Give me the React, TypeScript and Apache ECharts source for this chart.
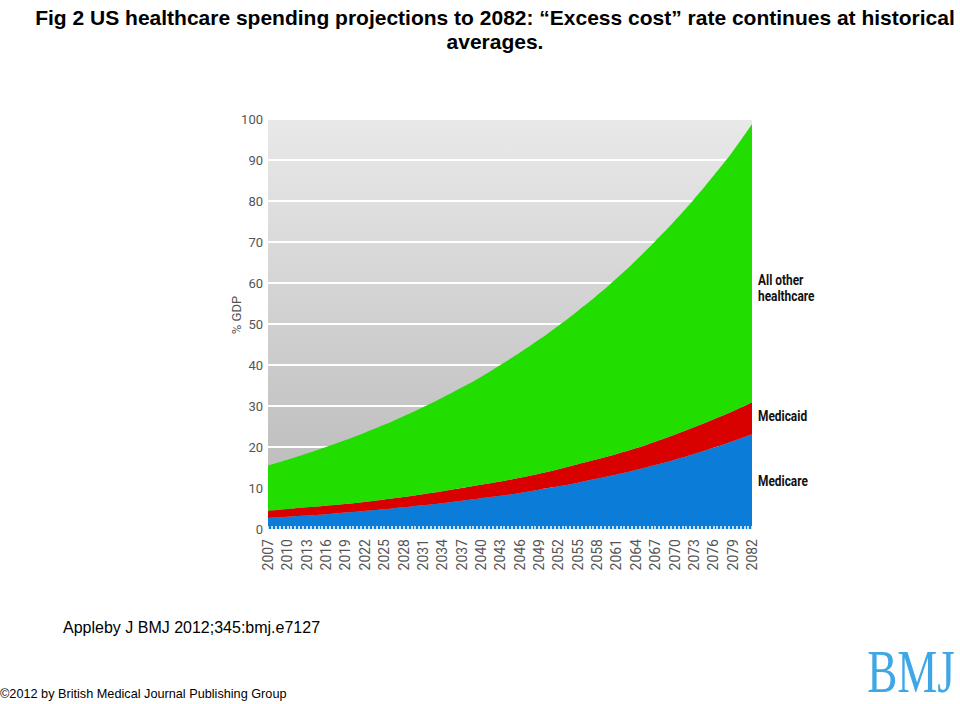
import React, { useEffect, useRef } from "react";
import * as echarts from "echarts";

const years: string[] = [
  "2007", "2010", "2013", "2016", "2019", "2022", "2025", "2028", "2031",
  "2034", "2037", "2040", "2043", "2046", "2049", "2052", "2055", "2058",
  "2061", "2064", "2067", "2070", "2073", "2076", "2079", "2082",
];

const medicare: number[] = [
  2.7, 3.0, 3.3, 3.6, 4.0, 4.4, 4.8, 5.3, 5.8, 6.3, 6.9, 7.5, 8.1, 8.8, 9.6,
  10.4, 11.3, 12.3, 13.3, 14.4, 15.6, 16.9, 18.3, 19.8, 21.4, 23.1,
];

const medicaid: number[] = [
  1.8, 1.9, 2.0, 2.1, 2.1, 2.2, 2.4, 2.5, 2.7, 2.9, 3.1, 3.3, 3.5, 3.7, 3.9,
  4.2, 4.5, 4.7, 5.0, 5.3, 5.7, 6.1, 6.5, 6.9, 7.3, 7.8,
];

const allOther: number[] = [
  11.0, 12.0, 13.1, 14.3, 15.6, 16.9, 18.2, 19.7, 21.2, 22.8, 24.5, 26.3, 28.4,
  30.5, 32.7, 35.0, 37.4, 40.0, 42.8, 45.8, 48.9, 52.1, 55.6, 59.4, 63.4, 67.9,
];

const seriesNames: string[] = ["Medicare", "Medicaid", "All other healthcare"];

const titleText =
  "Fig 2 US healthcare spending projections to 2082: \u201cExcess cost\u201d rate continues at historical\naverages.";
const citation = "Appleby J BMJ 2012;345:bmj.e7127";
const copyright = "\u00a92012 by British Medical Journal Publishing Group";

const axisFont = "Roboto, 'Noto Sans', sans-serif";
const arial = "'Liberation Sans', Arial, sans-serif";

export default function App() {
  const ref = useRef<HTMLDivElement>(null);

  useEffect(() => {
    if (!ref.current) return;
    const chart = echarts.init(ref.current, undefined, { renderer: "svg" });
    const colors = ["#0b7dd8", "#d90000", "#22dd00"];
    const values = [medicare, medicaid, allOther];

    chart.setOption({
      animation: false,
      backgroundColor: "#ffffff",
      title: {
        text: titleText,
        left: 490,
        top: 0,
        textAlign: "center",
        textStyle: {
          fontFamily: arial,
          fontWeight: "bold",
          fontSize: 21,
          lineHeight: 24,
          color: "#000",
        },
      },
      grid: {
        left: 268,
        right: 208,
        top: 119,
        bottom: 175,
        show: true,
        borderWidth: 0,
        backgroundColor: new echarts.graphic.LinearGradient(0, 0, 0, 1, [
          { offset: 0, color: "#e9e9e9" },
          { offset: 1, color: "#b7b7b7" },
        ]),
      },
      xAxis: [
        {
          type: "category",
          data: years,
          boundaryGap: false,
          axisLine: { show: false },
          axisTick: { show: false },
          splitLine: { show: false },
          axisLabel: {
            rotate: 90,
            margin: 10,
            fontSize: 14,
            color: "#555",
            fontFamily: axisFont,
            interval: 0,
          },
        },
        {
          type: "value",
          position: "bottom",
          min: 2007,
          max: 2082,
          interval: 3,
          axisLine: { show: false },
          splitLine: { show: false },
          axisLabel: { show: false },
          axisTick: {
            show: true,
            inside: true,
            length: 3,
            lineStyle: { color: "#ffffff", width: 1.5 },
          },
          minorTick: {
            show: true,
            splitNumber: 5,
            length: 3,
            lineStyle: { color: "#ffffff", width: 1.5 },
          },
          z: 10,
        },
      ],
      yAxis: {
        type: "value",
        min: 0,
        max: 100,
        interval: 10,
        axisLine: { show: false },
        axisTick: { show: false },
        splitLine: { show: true, lineStyle: { color: "#ffffff", width: 2 } },
        axisLabel: {
          margin: 5,
          fontSize: 13,
          color: "#555",
          fontFamily: axisFont,
        },
      },
      series: seriesNames.map((name, i) => ({
        name,
        type: "line",
        xAxisIndex: 0,
        stack: "total",
        smooth: true,
        showSymbol: false,
        symbol: "none",
        lineStyle: { width: 0 },
        areaStyle: { color: colors[i], opacity: 1 },
        itemStyle: { color: colors[i] },
        data: values[i],
        z: 2,
      })),
      graphic: [
        {
          type: "text",
          x: 236,
          y: 315,
          rotation: Math.PI / 2,
          style: {
            text: "% GDP",
            align: "center",
            verticalAlign: "middle",
            fontSize: 13,
            fill: "#555",
            fontFamily: axisFont,
          },
        },
        {
          type: "text",
          x: 758,
          y: 288,
          scaleX: 0.85,
          style: {
            text: "All other\nhealthcare",
            align: "left",
            verticalAlign: "middle",
            fontSize: 14,
            lineHeight: 16,
            fontWeight: "bold",
            fill: "#111",
            fontFamily: axisFont,
          },
        },
        {
          type: "text",
          x: 758,
          y: 416,
          scaleX: 0.85,
          style: {
            text: "Medicaid",
            align: "left",
            verticalAlign: "middle",
            fontSize: 14,
            fontWeight: "bold",
            fill: "#111",
            fontFamily: axisFont,
          },
        },
        {
          type: "text",
          x: 758,
          y: 481,
          scaleX: 0.85,
          style: {
            text: "Medicare",
            align: "left",
            verticalAlign: "middle",
            fontSize: 14,
            fontWeight: "bold",
            fill: "#111",
            fontFamily: axisFont,
          },
        },
        {
          type: "text",
          x: 63,
          y: 627,
          style: {
            text: citation,
            align: "left",
            verticalAlign: "middle",
            fontSize: 16,
            fill: "#000",
            fontFamily: arial,
          },
        },
        {
          type: "text",
          x: 0,
          y: 694,
          style: {
            text: copyright,
            align: "left",
            verticalAlign: "middle",
            fontSize: 12.7,
            fill: "#000",
            fontFamily: arial,
          },
        },
        {
          type: "text",
          x: 911,
          y: 671,
          scaleX: 0.9,
          scaleY: 1.24,
          style: {
            text: "BMJ",
            align: "center",
            verticalAlign: "middle",
            fontSize: 50,
            fill: "#3fa7e6",
            fontFamily: "'Liberation Serif', 'DejaVu Serif', serif",
          },
        },
      ],
    });

    return () => chart.dispose();
  }, []);

  return (
    <div
      ref={ref}
      style={{ position: "fixed", left: 0, top: 0, width: 960, height: 704 }}
    />
  );
}
